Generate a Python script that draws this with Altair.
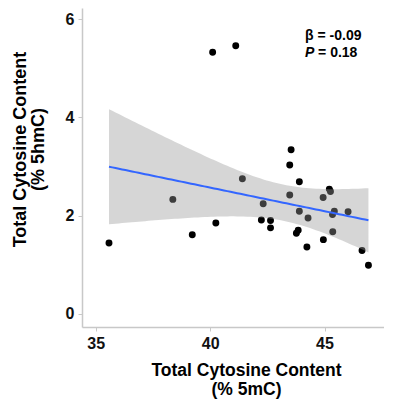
import altair as alt
import pandas as pd
import numpy as np

# % 5mC (x) and % 5hmC (y) per sample
mc5 = [35.58, 38.37, 39.22, 40.11, 40.25, 41.12, 41.41, 42.24, 42.32, 42.64,
       42.64, 43.48, 43.54, 43.48, 43.90, 43.90, 43.85, 43.77, 44.28, 44.23,
       44.94, 44.95, 45.21, 45.26, 45.35, 45.43, 45.36, 46.03, 46.64, 46.92]
hmc5 = [1.44, 2.33, 1.61, 5.33, 1.85, 5.46, 2.75, 1.91, 2.24, 1.90,
        1.75, 3.03, 3.34, 2.42, 2.69, 2.09, 1.70, 1.64, 1.95, 1.36,
        2.37, 1.51, 2.54, 2.49, 2.02, 2.09, 1.67, 2.08, 1.29, 0.99]

x_ticks = [35, 40, 45]
y_ticks = [0, 2, 4, 6]
annot_beta = "β = -0.09"
annot_p_label = "P"
annot_p_value = "= 0.18"

FONT = "Liberation Sans"

pts = pd.DataFrame({"mc5": mc5, "hmc5": hmc5})

# linear model fit with 95% confidence band (as geom_smooth(method="lm"))
x = np.array(mc5)
y = np.array(hmc5)
n = len(x)
xm = x.mean()
sxx = ((x - xm) ** 2).sum()
slope = ((x - xm) * (y - y.mean())).sum() / sxx
icpt = y.mean() - slope * xm
resid = y - (icpt + slope * x)
s = np.sqrt((resid ** 2).sum() / (n - 2))
tq = 2.048  # t(0.975, df=28)
grid = np.linspace(x.min(), x.max(), 80)
fit = icpt + slope * grid
se = s * np.sqrt(1.0 / n + (grid - xm) ** 2 / sxx)
band = pd.DataFrame({"mc5": grid, "fit": fit, "lo": fit - tq * se, "hi": fit + tq * se})

xscale = alt.Scale(domain=[34.4, 47.6], nice=False, zero=False)
yscale = alt.Scale(domain=[-0.27, 6.23], nice=False, zero=False)

xaxis = alt.Axis(values=x_ticks, title=["Total Cytosine Content", "(% 5mC)"],
                 titleX=164, titleY=34, titleBaseline="top", titleLineHeight=19,
                 titleFontSize=17.5, labelPadding=4)
yaxis = alt.Axis(values=y_ticks, title=["Total Cytosine Content", "(% 5hmC)"],
                 titleX=-71, titleY=141, titleBaseline="top", titleLineHeight=18,
                 titleFontSize=18, titleAngle=270, labelPadding=4)

points = alt.Chart(pts).mark_circle(size=48, color="black", opacity=1).encode(
    x=alt.X("mc5:Q", scale=xscale, axis=xaxis),
    y=alt.Y("hmc5:Q", scale=yscale, axis=yaxis),
)

ribbon = alt.Chart(band).mark_area(color="#999999", opacity=0.4).encode(
    x=alt.X("mc5:Q", scale=xscale),
    y=alt.Y("lo:Q", scale=yscale),
    y2="hi:Q",
)

line = alt.Chart(band).mark_line(color="#3366FF", strokeWidth=2).encode(
    x=alt.X("mc5:Q", scale=xscale),
    y=alt.Y("fit:Q", scale=yscale),
)

ann1 = alt.Chart(pd.DataFrame({"x": [44.15], "y": [5.58], "t": [annot_beta]})).mark_text(
    align="left", baseline="alphabetic", font=FONT, fontWeight="bold", fontSize=14, color="black"
).encode(x=alt.X("x:Q", scale=xscale), y=alt.Y("y:Q", scale=yscale), text="t:N")

ann2 = alt.Chart(pd.DataFrame({"x": [44.15], "y": [5.23], "t": [annot_p_label]})).mark_text(
    align="left", baseline="alphabetic", font=FONT, fontWeight="bold", fontStyle="italic",
    fontSize=14, color="black"
).encode(x=alt.X("x:Q", scale=xscale), y=alt.Y("y:Q", scale=yscale), text="t:N")

ann3 = alt.Chart(pd.DataFrame({"x": [44.15], "y": [5.23], "t": [annot_p_value]})).mark_text(
    align="left", baseline="alphabetic", font=FONT, fontWeight="bold", fontSize=14,
    color="black", dx=13
).encode(x=alt.X("x:Q", scale=xscale), y=alt.Y("y:Q", scale=yscale), text="t:N")

chart = alt.layer(points, ribbon, line, ann1, ann2, ann3).properties(
    width=302, height=319,
    autosize=alt.AutoSizeParams(type="none"),
    padding={"left": 74, "top": 0, "right": 0, "bottom": 76},
    background="white",
).configure_view(stroke=None).configure_axis(
    grid=False,
    domainColor="#c8c8c8", domainWidth=1.5,
    tickColor="#c8c8c8", tickWidth=1, tickSize=4,
    labelFont=FONT, labelFontWeight="bold", labelFontSize=16, labelColor="#111111",
    titleFont=FONT, titleFontWeight="bold", titleColor="black",
)

chart.save("out.html", embed_options={"renderer": "svg", "actions": False})
